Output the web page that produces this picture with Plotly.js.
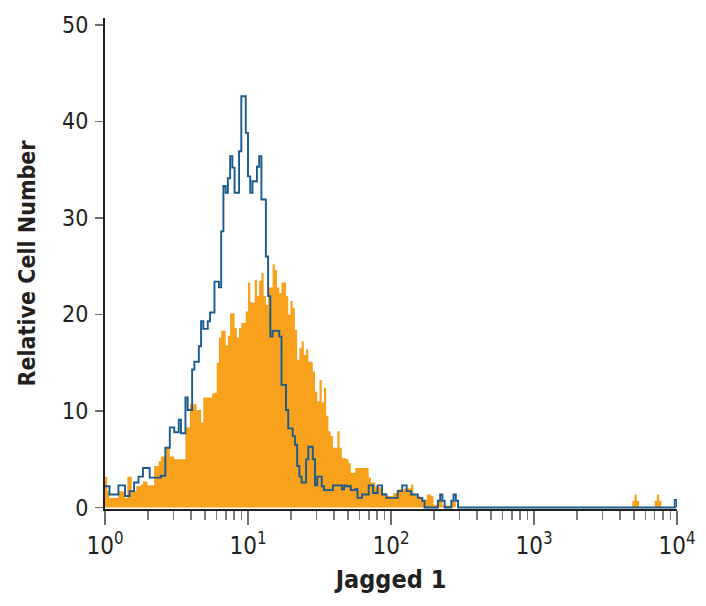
<!DOCTYPE html>
<html>
<head>
<meta charset="utf-8">
<script src="https://cdn.plot.ly/plotly-3.0.1.min.js"></script>
<style>html,body{margin:0;padding:0;background:#fff;}#chart{width:706px;height:606px;}</style>
</head>
<body>
<div id="chart"></div>
<script>
// 256-channel histograms over 4 log decades (10^0 .. 10^4), 64 channels per decade
const CHANNELS_PER_DECADE = 64;

// Isotype control (blue outline), counts per channel
const controlCounts = [
  2.2,2.2,1.35,1.35,1.35,1.35,2.3,2.3,2.3,1.2,
  1.2,1.7,1.7,2.6,2.6,3.2,3.2,4.1,4.1,4.1,
  3.1,3.1,3.1,3.1,3.1,3.3,3.3,6.2,6.2,8.3,
  8.3,7.8,7.8,9.1,7.7,7.7,11.4,10.1,10.1,14.3,
  15.1,15.1,16.7,19.3,18.5,18.5,19.3,20.2,20.2,23.4,
  23.4,22.8,28.6,33.3,32.6,34.1,36.4,35.2,32.6,32.6,
  36.9,42.6,42.6,38.8,34.3,32.6,33.8,33.8,35.3,36.4,
  31.9,31.9,26.0,21.9,17.7,18.3,18.3,18.3,17.7,12.7,
  12.7,10.1,8.2,8.2,7.4,6.5,4.3,3.2,2.6,2.6,
  5.0,6.3,6.3,5.0,2.3,3.2,3.2,2.2,1.8,1.8,
  1.8,1.8,2.3,2.3,2.3,2.3,1.9,2.3,2.2,2.2,
  1.8,1.8,1.9,1.0,1.0,1.35,1.35,1.35,2.3,2.3,
  1.5,1.5,2.3,2.3,1.35,1.35,1.0,1.0,1.0,1.0,
  1.0,1.7,1.7,2.3,2.3,1.7,1.7,1.35,1.35,1.35,
  1.0,1.0,0.7,0,0,0,0,0,0,0.7,
  1.35,0.7,0,0,0,0.7,1.35,0.7,0,0,
  0,0,0,0,0,0,0,0,0,0,
  0,0,0,0,0,0,0,0,0,0,
  0,0,0,0,0,0,0,0,0,0,
  0,0,0,0,0,0,0,0,0,0,
  0,0,0,0,0,0,0,0,0,0,
  0,0,0,0,0,0,0,0,0,0,
  0,0,0,0,0,0,0,0,0,0,
  0,0,0,0,0,0,0,0,0,0,
  0,0,0,0,0,0,0,0,0,0,
  0,0,0,0,0,0.8
];

// Jagged 1 stained (orange filled), counts per channel
const stainedCounts = [
  3.2,1.7,1.0,1.0,1.0,1.0,1.7,1.7,1.7,1.0,
  3.2,3.2,1.7,1.7,2.2,2.2,2.4,2.7,2.7,2.3,
  2.3,2.3,4.3,4.3,4.8,5.3,5.3,6.3,6.3,5.3,
  5.3,5.0,5.0,5.0,5.0,5.0,8.3,8.3,10.7,10.7,
  10.7,10.1,10.1,8.8,11.4,11.4,11.4,11.4,11.8,11.9,
  15.0,17.6,18.3,18.3,16.8,17.8,20.1,20.1,18.6,17.6,
  18.6,19.1,19.1,20.3,23.3,21.3,21.2,23.6,21.9,23.5,
  24.3,21.9,21.0,22.8,22.8,25.2,24.6,22.8,22.2,23.3,
  23.3,21.9,20.0,21.4,20.7,18.4,15.3,16.5,17.2,15.8,
  16.4,15.1,15.1,14.1,12.0,11.0,13.2,10.9,12.4,9.5,
  7.9,7.4,6.2,6.2,7.9,6.2,5.1,5.1,5.0,4.6,
  3.6,3.6,4.1,4.1,4.1,4.1,4.1,4.1,3.1,2.6,
  2.6,2.2,2.1,2.1,1.5,1.5,1.2,1.2,1.2,1.5,
  1.5,1.9,1.9,1.9,2.0,2.0,2.0,2.4,1.35,1.2,
  1.2,1.0,0.8,0.8,1.35,1.35,1.2,0.3,0.3,0.8,
  0.8,0.2,0.2,0.2,0.2,0.6,0.6,0,0,0,
  0,0,0,0,0,0,0,0,0,0,
  0,0,0,0,0,0,0,0,0,0,
  0,0,0,0,0,0,0,0,0,0,
  0,0,0,0,0,0,0,0,0,0,
  0,0,0,0,0,0,0,0,0,0,
  0,0,0,0,0,0,0,0,0,0,
  0,0,0,0,0,0,0,0,0,0,
  0,0,0,0,0,0,0.7,1.35,0.7,0,
  0,0,0,0,0,0,0.7,1.35,0.7,0,
  0,0,0,0,0,0
];

const xTickVals = [1, 10, 100, 1000, 10000];
const xTickText = ['10<sup>0</sup>', '10<sup>1</sup>', '10<sup>2</sup>', '10<sup>3</sup>', '10<sup>4</sup>'];
const yTickVals = [0, 10, 20, 30, 40, 50];
const yTickText = ['0', '10', '20', '30', '40', '50'];
const xTitle = 'Jagged 1';
const yTitle = 'Relative Cell Number';

// channel edges on the log scale
const nCh = stainedCounts.length;
const edges = [];
for (let i = 0; i <= nCh; i++) edges.push(Math.pow(10, i / CHANNELS_PER_DECADE));

const minorVals = [];
for (let d = 0; d < 4; d++) for (let k = 2; k <= 9; k++) minorVals.push(k * Math.pow(10, d));

const FONT = '"Liberation Sans Narrow", "Arial Narrow", "DejaVu Sans Condensed", "Roboto", sans-serif';

const traces = [
  {
    type: 'scatter', mode: 'lines',
    x: edges, y: stainedCounts.concat([0]),
    line: {shape: 'hv', width: 0, color: '#f7a11c'},
    fill: 'tozeroy', fillcolor: '#f7a11c',
    hoverinfo: 'skip', showlegend: false
  },
  {
    type: 'scatter', mode: 'lines',
    x: edges, y: controlCounts.concat([0]),
    line: {shape: 'hv', width: 1.9, color: '#1b5a8c'},
    hoverinfo: 'skip', showlegend: false
  }
];

const layout = {
  width: 706, height: 606,
  margin: {l: 105, r: 29, t: 18, b: 97, pad: 0},
  paper_bgcolor: '#ffffff', plot_bgcolor: '#ffffff',
  font: {family: FONT, color: '#231f20'},
  showlegend: false,
  xaxis: {
    type: 'log', range: [0, 4],
    tickmode: 'array', tickvals: xTickVals, ticktext: xTickText,
    ticks: 'outside', ticklen: 14, tickwidth: 1.5, tickcolor: '#6d6e71',
    minor: {tickmode: 'array', tickvals: minorVals, ticks: 'outside', ticklen: 9, tickwidth: 1.3, tickcolor: '#7d7e81', showgrid: false},
    showline: true, linecolor: '#231f20', linewidth: 2,
    showgrid: false, zeroline: false,
    tickfont: {family: FONT, size: 24, color: '#231f20'},
    title: {text: xTitle, font: {family: FONT, size: 25, color: '#231f20', weight: 'bold'}, standoff: 12}
  },
  yaxis: {
    range: [-0.15, 50.7],
    tickmode: 'array', tickvals: yTickVals, ticktext: yTickText,
    ticks: 'outside', ticklen: 8, tickwidth: 1.5, tickcolor: '#6d6e71',
    showline: true, linecolor: '#231f20', linewidth: 2,
    showgrid: false, zeroline: false,
    tickfont: {family: FONT, size: 23, color: '#231f20'},
    ticklabelstandoff: 2,
    title: {text: yTitle, font: {family: FONT, size: 23, color: '#231f20', weight: 'bold'}, standoff: 20}
  }
};

Plotly.newPlot('chart', traces, layout, {displayModeBar: false, staticPlot: true});
</script>
</body>
</html>
